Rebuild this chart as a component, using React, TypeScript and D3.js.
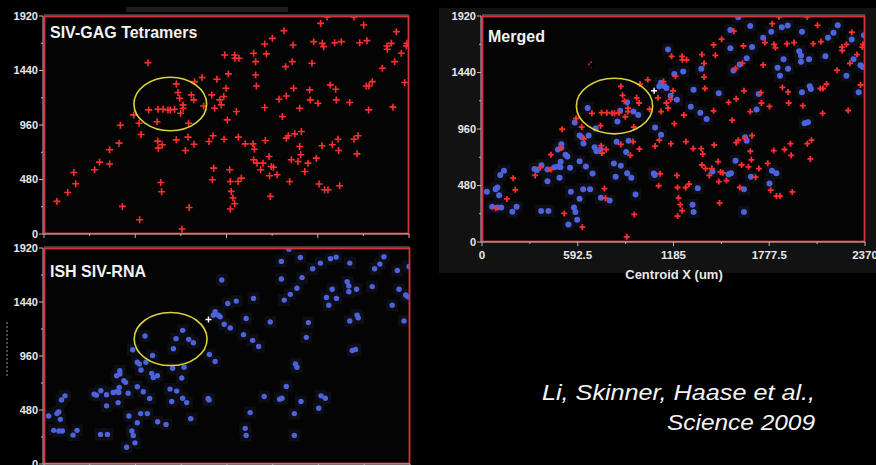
import React from "react";
import * as d3 from "d3";

// Stage coordinates in micrometres
const X_DOMAIN: [number, number] = [0, 2370];
const Y_DOMAIN: [number, number] = [0, 1920];
const X_TICKS = [0, 592.5, 1185, 1777.5, 2370];
const X_TICK_LABELS = ["0", "592.5", "1185", "1777.5", "2370"];
const Y_TICKS = [0, 480, 960, 1440, 1920];
const Y_TICK_LABELS = ["0", "480", "960", "1440", "1920"];

// SIV-GAG tetramer-positive cell centroids [x, y]
const gagTetramers: [number, number][] = [
  [84, 287], [154, 366], [193, 542], [206, 443], [329, 566], [361, 633], [426, 742], [426, 616],
  [487, 800], [496, 958], [509, 243], [582, 1049], [617, 976], [621, 126], [630, 876], [675, 1509],
  [680, 1093], [734, 988], [738, 818], [740, 1099], [773, 1099], [805, 1093], [820, 1093], [848, 1099],
  [742, 756], [758, 454], [764, 372], [768, 786], [859, 1322], [859, 829], [870, 1246], [881, 1196],
  [887, 1064], [896, 44], [903, 1108], [903, 1137], [918, 736], [935, 853], [939, 976], [942, 234],
  [957, 1225], [972, 1181], [974, 791], [978, 1342], [1026, 1378], [1037, 1128], [1071, 815], [1089, 1225],
  [1093, 478], [1097, 865], [1102, 580], [1108, 1108], [1123, 1363], [1141, 1181], [1151, 1137], [1167, 1211],
  [1169, 835], [1173, 1577], [1182, 1284], [1190, 1005], [1197, 1410], [1206, 566], [1210, 463], [1210, 220],
  [1216, 375], [1227, 317], [1238, 1577], [1238, 267], [1240, 1548], [1249, 1079], [1260, 463], [1262, 853],
  [1266, 1548], [1281, 492], [1307, 794], [1357, 794], [1361, 1592], [1366, 747], [1374, 1518], [1374, 1401],
  [1379, 1304], [1361, 654], [1383, 624], [1407, 566], [1422, 624], [1433, 1674], [1433, 1114], [1437, 824],
  [1444, 1586], [1461, 683], [1465, 513], [1470, 331], [1476, 595], [1483, 1723], [1490, 588], [1513, 522],
  [1526, 1187], [1548, 1035], [1558, 1791], [1569, 1474], [1573, 1216], [1573, 844], [1586, 865], [1595, 463],
  [1606, 654], [1612, 1518], [1617, 1665], [1621, 1284], [1628, 882], [1649, 639], [1660, 1108], [1660, 771],
  [1667, 698], [1671, 903], [1693, 551], [1714, 624], [1725, 1269], [1729, 1181], [1740, 1504], [1751, 1694],
  [1768, 668], [1779, 1152], [1786, 440], [1796, 1855], [1805, 777], [1807, 1679], [1816, 1650], [1822, 390],
  [1838, 1912], [1844, 390], [1859, 1313], [1872, 786], [1887, 1685], [1894, 1275], [1898, 1181], [1909, 835],
  [1913, 736], [1920, 425], [1931, 1694], [1985, 1158], [2013, 835], [2013, 1912], [2032, 706], [2039, 865],
  [2050, 1685], [2076, 1841], [2093, 1304], [2097, 1703], [2108, 1093], [2110, 1304], [2132, 1342], [2197, 1460],
  [2227, 1656], [2229, 1627], [2255, 1679], [2266, 1117], [2277, 1518], [2288, 1782], [2320, 1592], [2342, 1334],
  [2353, 1656], [2357, 1679],
];

// ISH SIV-RNA positive cell centroids [x, y]
const sivRna: [number, number][] = [
  [30, 427], [84, 448], [95, 463], [106, 397], [63, 299], [97, 293], [119, 293], [113, 570],
  [136, 606], [188, 257], [214, 299], [325, 621], [340, 612], [368, 651], [366, 263], [411, 263],
  [405, 615], [405, 517], [448, 636], [470, 642], [480, 546], [485, 636], [487, 681], [470, 785],
  [491, 800], [491, 830], [517, 741], [528, 726], [545, 630], [550, 427], [535, 149], [569, 293],
  [578, 254], [589, 188], [604, 367], [604, 687], [604, 905], [617, 890], [628, 836], [574, 1015],
  [626, 448], [643, 642], [660, 905], [669, 448], [684, 582], [654, 1138], [703, 964], [697, 806],
  [708, 770], [734, 785], [736, 376], [790, 352], [816, 666], [827, 555], [833, 851], [859, 648],
  [838, 1024], [855, 1114], [892, 764], [898, 1188], [898, 585], [907, 860], [924, 546], [937, 1108],
  [950, 403], [967, 1078], [1063, 582], [1069, 570], [1071, 973], [1108, 911], [1108, 1353], [1130, 1323],
  [1141, 1308], [1097, 1323], [1151, 1636], [1167, 1242], [1190, 1427], [1206, 1209], [1245, 1448], [1292, 1150],
  [1309, 1293], [1335, 457], [1303, 317], [1309, 254], [1351, 1099], [1357, 1472], [1390, 1045], [1426, 600],
  [1465, 1263], [1526, 576], [1541, 585], [1537, 1801], [1537, 1645], [1556, 1457], [1569, 690], [1586, 1910],
  [1595, 1508], [1621, 448], [1621, 254], [1628, 890], [1638, 860], [1638, 1562], [1660, 1836], [1664, 555],
  [1671, 1657], [1699, 1126], [1712, 1257], [1740, 1735], [1779, 496], [1790, 1786], [1794, 606], [1822, 585],
  [1829, 1481], [1844, 1412], [1855, 1824], [1866, 1553], [1892, 1839], [1894, 1472], [1963, 1621], [1974, 1583],
  [1974, 1532], [1980, 1272], [1980, 1786], [1996, 1009], [2017, 1018], [2024, 1553], [2028, 1323], [2035, 1299],
  [2125, 1577], [2141, 1735], [2175, 1777], [2201, 1842], [2255, 1412], [2288, 1720], [2299, 1553], [2331, 1272],
  [2342, 1502], [2357, 1487], [2364, 1756],
];

// Reference fiducial and highlighted region (centre x, radius x, radius y)
const fiducial: [number, number] = [1065, 1285];
const focusRegion = { cx: 820, rx: 236, ry: 236 };

type PanelProps = {
  id: string;
  left: number;
  right: number;
  top: number;
  bottom: number;
  title: string;
  titleY: number;
  showGag: boolean;
  showRna: boolean;
  showXLabels: boolean;
  focusY: number;
  crossArm: number;
  crossWidth: number;
  dotR: number;
};

const FONT = "'Liberation Sans', Arial, Helvetica, sans-serif";
const RED = "#ff2e2e";
const BLUE = "#4d63de";
const FRAME_RED = "#d8333a";
const AXIS_GREY = "#b8b8b8";

function Panel(p: PanelProps) {
  const x = d3.scaleLinear().domain(X_DOMAIN).range([p.left, p.right]);
  const y = d3.scaleLinear().domain(Y_DOMAIN).range([p.bottom, p.top]);
  const minorX = d3.pairs(X_TICKS).map(([a, b]) => (a + b) / 2);
  const minorY = d3.pairs(Y_TICKS).map(([a, b]) => (a + b) / 2);
  const clipId = `clip-${p.id}`;
  const a = p.crossArm;

  return (
    <g>
      <defs>
        <clipPath id={clipId}>
          <rect x={p.left} y={p.top} width={p.right - p.left} height={p.bottom - p.top} />
        </clipPath>
      </defs>

      <rect x={p.left} y={p.top} width={p.right - p.left} height={p.bottom - p.top} fill="#040404" />

      <g clipPath={`url(#${clipId})`}>
        {p.showRna &&
          sivRna.map((d, i) => (
            <rect key={`h${i}`} x={x(d[0]) - 6} y={y(d[1]) - 6} width={12} height={12} fill="#10101a" opacity={0.75} />
          ))}
        {p.showRna &&
          sivRna.map((d, i) => <circle key={`b${i}`} cx={x(d[0])} cy={y(d[1])} r={p.dotR} fill={BLUE} />)}
        {p.showGag &&
          gagTetramers.map((d, i) => (
            <path
              key={`r${i}`}
              d={`M${x(d[0]) - a},${y(d[1])}H${x(d[0]) + a}M${x(d[0])},${y(d[1]) - a}V${y(d[1]) + a}`}
              stroke={RED}
              strokeWidth={p.crossWidth}
              fill="none"
            />
          ))}
        {p.showRna && (
          <path
            d={`M${x(fiducial[0]) - 3},${y(fiducial[1])}H${x(fiducial[0]) + 3}M${x(fiducial[0])},${y(fiducial[1]) - 3}V${y(fiducial[1]) + 3}`}
            stroke="#ffffff"
            strokeWidth={1.4}
          />
        )}
      </g>

      {/* panel frame */}
      <rect
        x={p.left + 0.5}
        y={p.top + 0.5}
        width={p.right - p.left - 1}
        height={p.bottom - p.top - 1}
        fill="none"
        stroke={FRAME_RED}
        strokeWidth={1.8}
      />
      <line x1={p.left} x2={p.right} y1={p.top - 1} y2={p.top - 1} stroke="#8a8a8a" strokeWidth={0.8} />

      {/* highlighted region */}
      <ellipse
        cx={x(focusRegion.cx)}
        cy={y(p.focusY)}
        rx={x(focusRegion.rx) - x(0)}
        ry={y(0) - y(focusRegion.ry)}
        fill="none"
        stroke="#d9d23a"
        strokeWidth={1.6}
      />

      {/* y axis */}
      <line x1={p.left - 1} x2={p.left - 1} y1={p.top} y2={p.bottom} stroke={AXIS_GREY} strokeWidth={1} />
      {Y_TICKS.map((t, i) => (
        <g key={`yt${i}`}>
          <line x1={p.left - 5} x2={p.left - 1} y1={y(t)} y2={y(t)} stroke={AXIS_GREY} strokeWidth={1} />
          <text
            x={p.left - 6}
            y={y(t)}
            dy="0.36em"
            textAnchor="end"
            fontFamily={FONT}
            fontWeight="bold"
            fontSize={11}
            fill="#e8e8e8"
          >
            {Y_TICK_LABELS[i]}
          </text>
        </g>
      ))}
      {minorY.map((t, i) => (
        <line key={`ym${i}`} x1={p.left - 3} x2={p.left - 1} y1={y(t)} y2={y(t)} stroke={AXIS_GREY} strokeWidth={1} />
      ))}

      {/* x axis */}
      <line x1={p.left - 1} x2={p.right} y1={p.bottom} y2={p.bottom} stroke={AXIS_GREY} strokeWidth={1} />
      {X_TICKS.map((t, i) => (
        <g key={`xt${i}`}>
          <line x1={x(t)} x2={x(t)} y1={p.bottom} y2={p.bottom + 4} stroke={AXIS_GREY} strokeWidth={1} />
          {p.showXLabels && (
            <text
              x={x(t)}
              y={p.bottom + 17}
              textAnchor="middle"
              fontFamily={FONT}
              fontWeight="bold"
              fontSize={11.5}
              fill="#e8e8e8"
            >
              {X_TICK_LABELS[i]}
            </text>
          )}
        </g>
      ))}
      {minorX.map((t, i) => (
        <line key={`xm${i}`} x1={x(t)} x2={x(t)} y1={p.bottom} y2={p.bottom + 2} stroke={AXIS_GREY} strokeWidth={1} />
      ))}

      <text x={p.left + 6} y={p.titleY} fontFamily={FONT} fontWeight="bold" fontSize={16} fill="#f2f2f2">
        {p.title}
      </text>
    </g>
  );
}

export default function App() {
  return (
    <div style={{ position: "fixed", left: 0, top: 0, width: 876, height: 465, background: "#000" }}>
      <svg width={876} height={465} style={{ display: "block" }}>
        <rect x={0} y={0} width={876} height={465} fill="#000" />
        {/* backdrop behind the merged view */}
        <rect x={439} y={8} width={437} height={265} fill="#121212" />
        <rect x={126} y={7} width={162} height={5} fill="#1e1e1e" />

        <Panel
          id="gag"
          left={44}
          right={409}
          top={16}
          bottom={234}
          title="SIV-GAG Tetramers"
          titleY={38}
          showGag={true}
          showRna={false}
          showXLabels={false}
          focusY={1145}
          crossArm={3.5}
          crossWidth={1.6}
          dotR={2.6}
        />
        <Panel
          id="rna"
          left={44}
          right={410}
          top={248}
          bottom={464}
          title="ISH SIV-RNA"
          titleY={277}
          showGag={false}
          showRna={true}
          showXLabels={false}
          focusY={1111}
          crossArm={3.5}
          crossWidth={1.6}
          dotR={2.7}
        />
        <Panel
          id="merged"
          left={482}
          right={865}
          top={16}
          bottom={242}
          title="Merged"
          titleY={42}
          showGag={true}
          showRna={true}
          showXLabels={true}
          focusY={1155}
          crossArm={3}
          crossWidth={1.8}
          dotR={3}
        />
        <circle cx={592} cy={65} r={2.5} fill="#000" />

        <text x={674} y={279} textAnchor="middle" fontFamily={FONT} fontWeight="bold" fontSize={13} fill="#e8e8e8">
          Centroid X (um)
        </text>

        <line x1={7} x2={7} y1={322} y2={377} stroke="#9a9a9a" strokeWidth={1} strokeDasharray="2,2" />

        <text
          x={542}
          y={400}
          fontFamily={FONT}
          fontStyle="italic"
          fontSize={22}
          fill="#f4f4f4"
          textLength={273}
          lengthAdjust="spacingAndGlyphs"
        >
          Li, Skinner, Haase et al.,
        </text>
        <text
          x={667}
          y={430}
          fontFamily={FONT}
          fontStyle="italic"
          fontSize={22}
          fill="#f4f4f4"
          textLength={148}
          lengthAdjust="spacingAndGlyphs"
        >
          Science 2009
        </text>
      </svg>
    </div>
  );
}
